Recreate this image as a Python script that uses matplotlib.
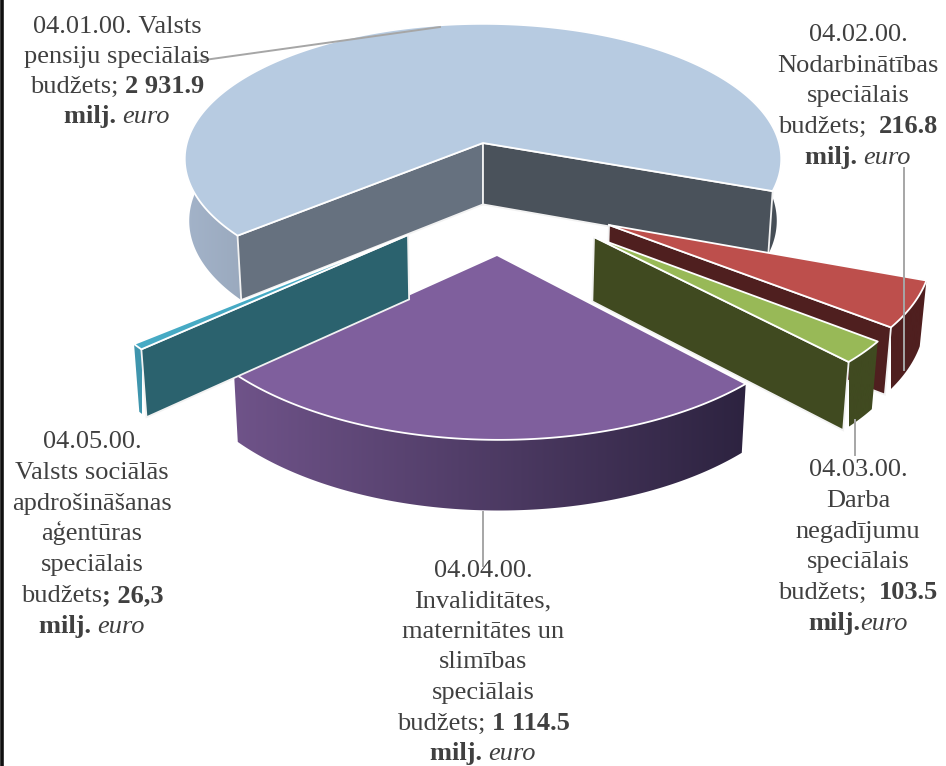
import numpy as np
import matplotlib
matplotlib.use('Agg')
import matplotlib.pyplot as plt
from matplotlib.patches import Polygon
from matplotlib.colors import to_rgb

# data, order as in the pie
codes = ['04.01.00.', '04.02.00.', '04.03.00.', '04.04.00.', '04.05.00.']
values = [2931.9, 216.8, 103.5, 1114.5, 26.3]

# label lines, every line is a list of (text, style) runs
N, B, I = 'normal', 'bold', 'italic'
labels = [
    [[('04.01.00. Valsts', N)], [('pensiju speciālais', N)],
     [('budžets; ', N), ('2 931.9', B)], [('milj. ', B), ('euro', I)]],
    [[('04.02.00.', N)], [('Nodarbinātības', N)], [('speciālais', N)],
     [('budžets;  ', N), ('216.8', B)], [('milj. ', B), ('euro', I)]],
    [[('04.03.00.', N)], [('Darba', N)], [('negadījumu', N)], [('speciālais', N)],
     [('budžets;  ', N), ('103.5', B)], [('milj.', B), ('euro', I)]],
    [[('04.04.00.', N)], [('Invaliditātes,', N)], [('maternitātes un', N)],
     [('slimības', N)], [('speciālais', N)], [('budžets; ', N), ('1 114.5', B)],
     [('milj. ', B), ('euro', I)]],
    [[('04.05.00.', N)], [('Valsts sociālās', N)], [('apdrošināšanas', N)],
     [('aģentūras', N)], [('speciālais', N)], [('budžets', N), ('; 26,3', B)],
     [('milj. ', B), ('euro', I)]],
]

# pixel layout of the labels: centre x, first baseline, line step
label_pos = [(117, 33, 30), (858, 41, 30.7), (858, 476, 30.8), (483, 577, 30.5), (92, 448, 30.8)]

# wedge apex on screen after the explosion
apex_px = [(483, 143), (609, 225), (594, 237), (497, 255), (408, 235)]

top_col = ['#b7cbe1', '#bd4f4c', '#98b957', '#7f5f9d', '#46aac4']
wall_start = ['#66717f', '#4f1f1f', '#404a20', '#3a2c52', '#2b626e']
wall_end = ['#4a525b', '#4f1f1f', '#404a20', '#3a2c52', '#2b626e']
rim_left = ['#a3b3c9', '#4f1f1f', '#404a20', '#6f5389', '#3f95ad']
rim_right = ['#454d55', '#4f1f1f', '#404a20', '#2d2340', '#3f95ad']

# leaders, pixels
leaders = [((197, 61), (440, 27)), ((904, 168), (904, 370)),
           ((855, 420), (855, 455)), ((483, 512), (483, 566))]

start_angle = 230.0
x0, y0 = 483.0, 192.0
A, Bh, p, H = 309.0, 145.0, 0.123, 63.0


def project(X, Y, z=0.0):
    s = 1.0 / (1.0 + p * Y)
    return x0 + A * X * s * (1 - 0.015 * z), y0 - Bh * Y * s + H * s ** 0.6 * z


def unproject(px, py):
    g = (y0 - py) / Bh
    Y = g / (1 - p * g)
    s = 1.0 / (1.0 + p * Y)
    return (px - x0) / (A * s), Y


def mix(c1, c2, t):
    c1, c2 = np.array(to_rgb(c1)), np.array(to_rgb(c2))
    return c1 + (c2 - c1) * t


def draw_rim(ax, i, ex, ey, th):
    xs, _ = project(ex, ey)
    left, right = xs.min(), xs.max()
    ramp = np.array([[mix(rim_left[i], rim_right[i], t) for t in np.linspace(0, 1, 256)]])
    front = np.cos(th) < 0.12
    # a wedge may show two separate pieces of rim
    k = 0
    while k < len(th):
        if not front[k]:
            k += 1
            continue
        m = k
        while m + 1 < len(th) and front[m + 1]:
            m += 1
        if m > k:
            tx, ty = project(ex[k:m + 1], ey[k:m + 1])
            bx, by = project(ex[k:m + 1], ey[k:m + 1], 1)
            pts = np.r_[np.c_[tx, ty], np.c_[bx, by][::-1]]
            clip = Polygon(pts, fc='none', ec='none', transform=ax.transData)
            ax.add_patch(clip)
            im = ax.imshow(ramp, extent=(left, right, 766, 0), aspect='auto',
                           interpolation='bilinear', zorder=2 + i)
            im.set_clip_path(clip)
        k = m + 1


def draw_wedge(ax, i, a0, a1):
    cx, cy = unproject(*apex_px[i])
    th = np.radians(np.linspace(a0, a1, max(int(a1 - a0), 2) * 2 + 1))
    ex = cx + np.sin(th)
    ey = cy + np.cos(th)
    draw_rim(ax, i, ex, ey, th)
    # cut faces
    for normal, col, e in [(a0 - 90, wall_start[i], (ex[0], ey[0])),
                           (a1 + 90, wall_end[i], (ex[-1], ey[-1]))]:
        if np.cos(np.radians(normal)) >= 0:
            continue
        q = [project(cx, cy), project(*e), project(e[0], e[1], 1), project(cx, cy, 1)]
        ax.add_patch(Polygon(q, fc=col, ec='#f2f2f2', lw=1.3, zorder=2 + i))
    # top
    xs, ys = project(np.r_[cx, ex], np.r_[cy, ey])
    ax.add_patch(Polygon(np.c_[xs, ys], fc=top_col[i], ec='white', lw=1.3,
                         joinstyle='round', zorder=2 + i))


def draw_runs(ax, fig, line, xc, y):
    r = fig.canvas.get_renderer()
    pieces = []
    total = 0
    for txt, st in line:
        t = ax.text(0, y, txt.replace(' ', '\u00a0'), fontsize=19, color='#404040',
                    va='baseline', ha='left', family='Liberation Serif', zorder=20,
                    weight='bold' if st == B else 'normal',
                    style='italic' if st == I else 'normal')
        w = t.get_window_extent(r).width
        pieces.append((t, w))
        total += w
    x = xc - total / 2
    for t, w in pieces:
        t.set_x(x)
        x += w


fig = plt.figure(figsize=(9.46, 7.66), dpi=100)
ax = fig.add_axes([0, 0, 1, 1])
ax.axis('off')

# left frame of the picture
ax.plot([2, 2], [0, 766], color='#111111', lw=2.6, zorder=30)

spans = np.array(values) / sum(values) * 360
ang = start_angle
wedge_angles = []
for sp in spans:
    wedge_angles.append((ang, ang + sp))
    ang += sp

for i in [0, 1, 4, 2, 3]:
    draw_wedge(ax, i, wedge_angles[i][0], wedge_angles[i][1])

for a, b in leaders:
    ax.plot([a[0], b[0]], [a[1], b[1]], color='#a6a6a6', lw=1.4, zorder=15)

ax.set_xlim(0, 946)
ax.set_ylim(766, 0)

for lab, (xc, yb, step) in zip(labels, label_pos):
    for n, line in enumerate(lab):
        draw_runs(ax, fig, line, xc, yb + n * step)

fig.savefig('out.png', dpi=100)
